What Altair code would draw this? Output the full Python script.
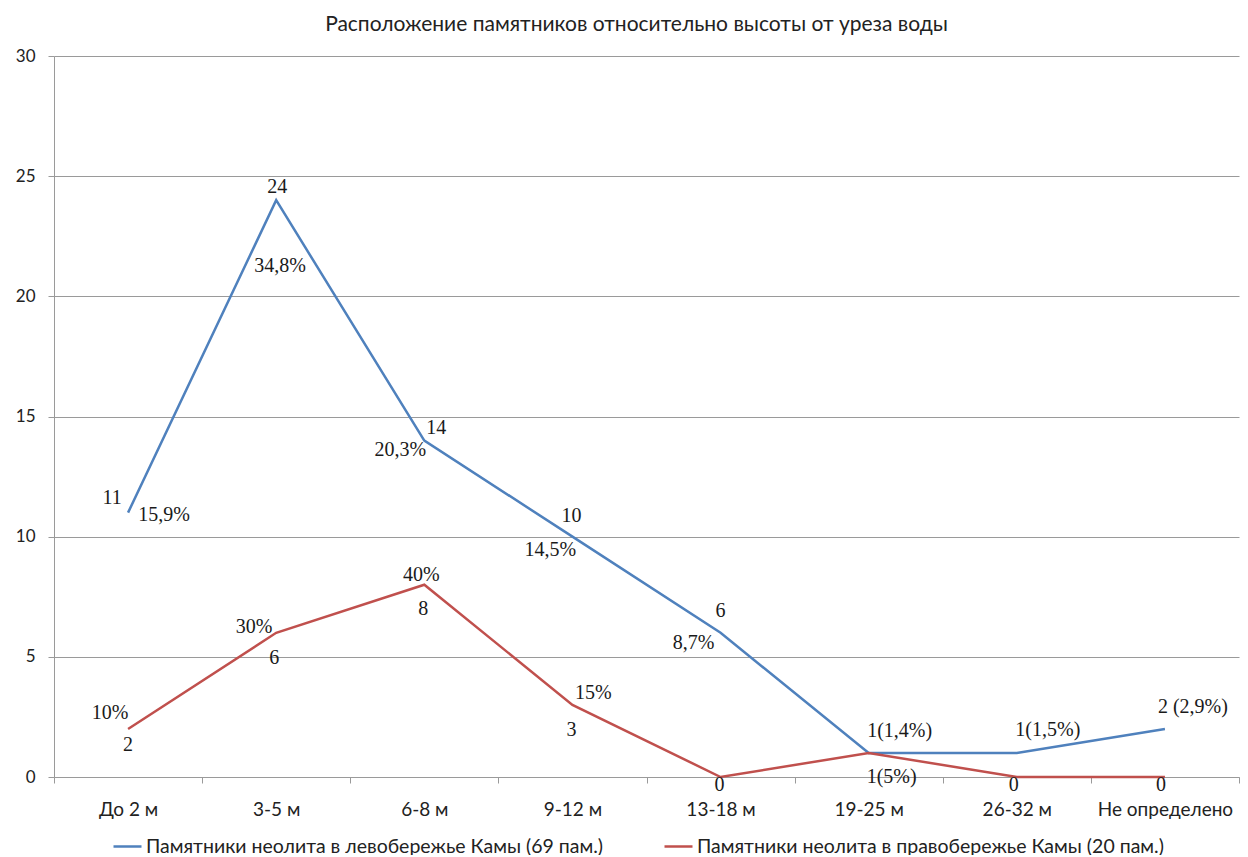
import altair as alt
import pandas as pd

# ---- data ----
categories = ["До 2 м", "3-5 м", "6-8 м", "9-12 м", "13-18 м", "19-25 м", "26-32 м", "Не определено"]
left_bank = [11, 24, 14, 10, 6, 1, 1, 2]
right_bank = [2, 6, 8, 3, 0, 1, 0, 0]
left_name = "Памятники неолита в левобережье Камы (69 пам.)"
right_name = "Памятники неолита в правобережье Камы (20 пам.)"
left_count_labels = ["11", "24", "14", "10", "6", "1(1,4%)", "1(1,5%)", "2 (2,9%)"]
left_pct_labels = ["15,9%", "34,8%", "20,3%", "14,5%", "8,7%", "", "", ""]
right_count_labels = ["2", "6", "8", "3", "0", "1(5%)", "0", "0"]
right_pct_labels = ["10%", "30%", "40%", "15%", "", "", "", ""]
y_ticks = [0, 5, 10, 15, 20, 25, 30]
title_text = "Расположение памятников относительно высоты от уреза воды"

# ---- label placement (pixel offsets from the data point) ----
left_count_off = [(-16, -15), (1, -13), (12, -13), (-1, -21), (0, -22), (31, -22), (31, -23), (28, -22)]
left_pct_off = [(36, 2), (4, 66), (-24, 9), (-22, 13), (-27, 10), None, None, None]
right_count_off = [(0, 16), (-2, 25), (-1, 24), (-1, 25), (-1, 8), (23, 24), (-3, 8), (-4, 8)]
right_pct_off = [(-18, -16), (-22, -6), (-3, -10), (21, -12), None, None, None, None]

BLUE = "#4F81BD"
RED = "#C0504D"
SANS = "Lato"
SERIF = "Liberation Serif"
TXT = "#222222"
GRID = "#9a9a9a"

rows = []
for c, v in zip(categories, left_bank):
    rows.append({"cat": c, "v": v, "series": left_name})
for c, v in zip(categories, right_bank):
    rows.append({"cat": c, "v": v, "series": right_name})
df = pd.DataFrame(rows)

x_enc = alt.X(
    "cat:N",
    sort=categories,
    scale=alt.Scale(type="band", domain=categories, paddingInner=0, paddingOuter=0),
    axis=alt.Axis(
        title=None, labelAngle=0, tickBand="extent", tickSize=6, tickColor=GRID,
        domainColor=GRID, labelFont=SANS, labelFontSize=19, labelColor=TXT,
        labelPadding=17, grid=False,
    ),
)
y_enc = alt.Y(
    "v:Q",
    scale=alt.Scale(domain=[0, 30], nice=False),
    axis=alt.Axis(
        title=None, values=y_ticks, tickSize=6, tickColor=GRID, domainColor=GRID,
        gridColor=GRID, gridWidth=1, labelFont=SANS, labelFontSize=17,
        labelColor=TXT, labelPadding=13,
    ),
)

lines = alt.Chart(df).mark_line(strokeWidth=2.5).encode(
    x=x_enc,
    y=y_enc,
    color=alt.Color(
        "series:N",
        scale=alt.Scale(domain=[left_name, right_name], range=[BLUE, RED]),
        legend=alt.Legend(
            title=None, orient="none", direction="horizontal", legendX=58, legendY=775,
            symbolType="stroke", symbolSize=784, symbolStrokeWidth=2.5,
            labelFont=SANS, labelFontSize=19.5, labelColor=TXT, labelOffset=3,
            columnPadding=55, labelLimit=800,
        ),
    ),
)

layers = [lines]


def add_labels(values, texts, offsets):
    for c, v, t, off in zip(categories, values, texts, offsets):
        if off is None or t == "":
            continue
        d = pd.DataFrame({"cat": [c], "v": [v], "t": [t]})
        layers.append(
            alt.Chart(d).mark_text(
                font=SERIF, fontSize=20, color="#1a1a1a", dx=off[0], dy=off[1],
                align="center", baseline="middle",
            ).encode(x=alt.X("cat:N", sort=categories), y="v:Q", text="t:N")
        )


add_labels(left_bank, left_count_labels, left_count_off)
add_labels(left_bank, left_pct_labels, left_pct_off)
add_labels(right_bank, right_count_labels, right_count_off)
add_labels(right_bank, right_pct_labels, right_pct_off)

chart = alt.layer(*layers).properties(
    width=1185,
    height=721,
    autosize=alt.AutoSizeParams(type="none"),
    padding={"left": 46, "top": 48, "right": 1, "bottom": 78},
    title=alt.TitleParams(
        title_text, font=SANS, fontSize=21, fontWeight="normal", color=TXT,
        anchor="middle", offset=12, dx=-10,
    ),
).configure_view(stroke=None)

chart.save("out.html", embed_options={"renderer": "svg", "actions": False})
